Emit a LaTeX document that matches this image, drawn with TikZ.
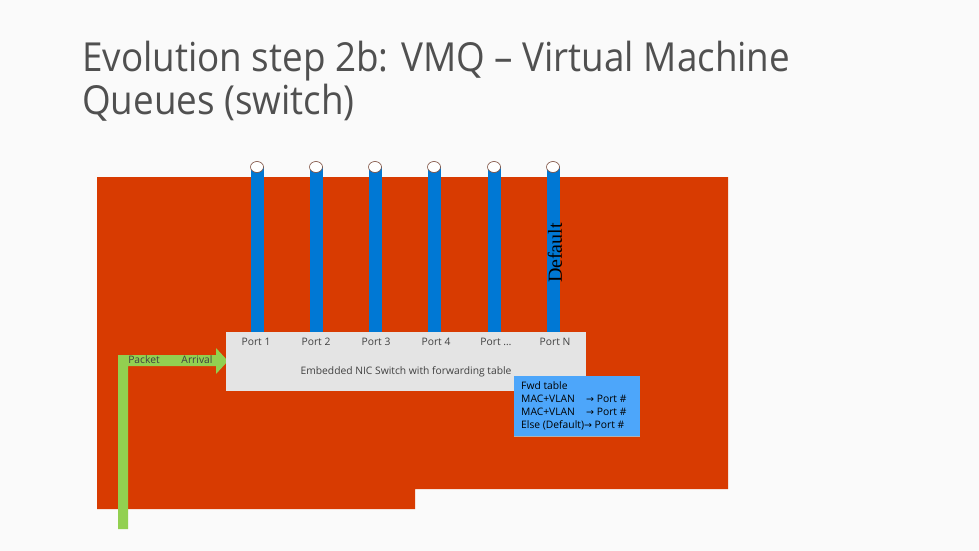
\documentclass[tikz,border=0pt]{standalone}
\usepackage{fontspec}
\setmainfont{Open Sans}
\newfontfamily\titlefont[FakeStretch=0.92]{Open Sans}
\newfontfamily\arrfont{DejaVu Sans}
\newfontfamily\deffont{Liberation Serif}
\definecolor{bg}{HTML}{FAFAFA}
\definecolor{nicred}{HTML}{D83B01}
\definecolor{pipeblue}{HTML}{0078D4}
\definecolor{arrgreen}{HTML}{92D050}
\definecolor{boxgray}{HTML}{E4E4E4}
\definecolor{tblblue}{HTML}{4DA6FA}
\definecolor{txtgray}{HTML}{404040}
\definecolor{titlegray}{HTML}{505050}
\definecolor{capline}{HTML}{7A4A3A}
\tikzset{
  lbl/.style={font=\fontsize{10.3}{12}\selectfont, text=txtgray, inner sep=0pt},
  tbl/.style={font=\fontsize{10.3}{12}\selectfont, text=black, inner sep=0pt, anchor=west},
  ttl/.style={font=\titlefont\fontsize{40}{44}\selectfont, text=titlegray, inner sep=0pt, anchor=base west},
  pipe/.style={fill=pipeblue, draw=none},
  pipecap/.style={fill=white, draw=capline, line width=0.6pt}
}
\newcommand{\tarr}{{\arrfont\fontsize{9.5}{11}\selectfont →}}
\begin{document}
\begin{tikzpicture}[x=1pt,y=-1pt]
\fill[bg] (0,0) rectangle (979,551);
\useasboundingbox (0,0) rectangle (979,551);
% title
\node[ttl] (t1) at (82,71) {Evolution step 2b: VMQ – Virtual Machine};
\node[ttl] (t2) at (82,114) {Queues (switch)};
% red card
\fill[nicred] (97,177) -- (728,177) -- (728,489) -- (415,489) -- (415,509) -- (97,509) -- cycle;
% green arrow
\fill[arrgreen] (118,529) -- (118,355) -- (216,355) -- (216,348) -- (228,361) -- (216,374) -- (216,366) -- (128,366) -- (128,529) -- cycle;
\node[lbl] (packet) at (144,360) {Packet};
\node[lbl] (arrival) at (197,360) {Arrival};
% switch box
\fill[boxgray] (226,332) rectangle (586,391);
% pipes
\foreach \i/\x in {1/257,2/316,3/375,4/434,5/494,6/553}{
  \fill[pipe] (\x-6.5,167) rectangle (\x+6.5,332);
  \draw[pipecap] (\x,167) ellipse [x radius=6.5, y radius=5.5];
  \coordinate (p\i) at (\x,332);
}
\node[font=\deffont\fontsize{20}{22}\selectfont, text=black, rotate=90, inner sep=0pt] (default) at (555,253) {Default};
% port labels
\node[lbl] (l1) at (256,342) {Port 1};
\node[lbl] (l2) at (316,342) {Port 2};
\node[lbl] (l3) at (376,342) {Port 3};
\node[lbl] (l4) at (436,342) {Port 4};
\node[lbl] (l5) at (496,342) {Port \dots};
\node[lbl] (l6) at (555,342) {Port N};
\node[lbl] (swlabel) at (406,372) {Embedded NIC Switch with forwarding table};
% fwd table
\fill[tblblue] (514,376) rectangle (640,436);
\draw[gray!60, line width=0.5pt] (514,436) -- (640,436);
\node[tbl] (f1) at (521,386) {Fwd table};
\node[tbl] (f2) at (521,399) {MAC+VLAN};
\node[tbl] (f2b) at (586,399) {\tarr\ Port \#};
\node[tbl] (f3) at (521,412) {MAC+VLAN};
\node[tbl] (f3b) at (586,412) {\tarr\ Port \#};
\node[tbl] (f4) at (521,425) {Else (Default)\tarr\ Port \#};
\end{tikzpicture}
\end{document}
